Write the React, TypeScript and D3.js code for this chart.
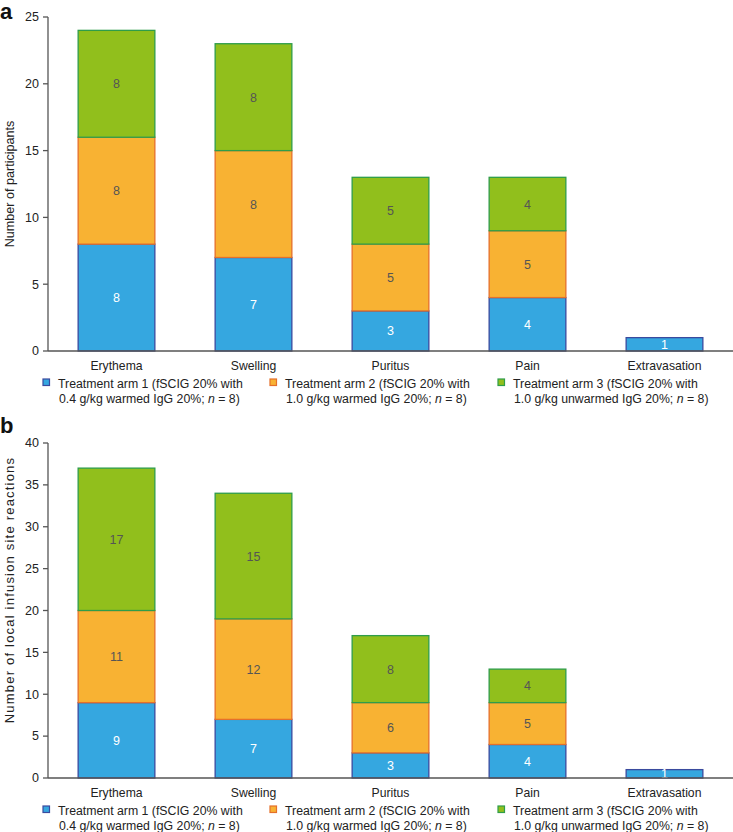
import * as d3 from "d3";

const categories = ["Erythema", "Swelling", "Puritus", "Pain", "Extravasation"];

const arm1A = [8, 7, 3, 4, 1];
const arm2A = [8, 8, 5, 5, 0];
const arm3A = [8, 8, 5, 4, 0];

const arm1B = [9, 7, 3, 4, 1];
const arm2B = [11, 12, 6, 5, 0];
const arm3B = [17, 15, 8, 4, 0];

const ticksA = [0, 5, 10, 15, 20, 25];
const ticksB = [0, 5, 10, 15, 20, 25, 30, 35, 40];

const legendLines = [
  ["Treatment arm 1 (fSCIG 20% with", "0.4 g/kg warmed IgG 20%; "],
  ["Treatment arm 2 (fSCIG 20% with", "1.0 g/kg warmed IgG 20%; "],
  ["Treatment arm 3 (fSCIG 20% with", "1.0 g/kg unwarmed IgG 20%; "],
];

const colors = [
  { fill: "#35a7e0", stroke: "#3a4a9e", text: "#ffffff" },
  { fill: "#f8b233", stroke: "#e5702a", text: "#555555" },
  { fill: "#91bf1c", stroke: "#2f9d4a", text: "#555555" },
];

const FONT = "Liberation Sans, Arial, sans-serif";

type PanelProps = {
  letter: string;
  letterY: number;
  title: string;
  titleSize: number;
  titleSpacing: number;
  titleY: number;
  series: number[][];
  ticks: number[];
  yMax: number;
  top: number;
  bottom: number;
};

function Panel({
  letter,
  letterY,
  title,
  titleSize,
  titleSpacing,
  titleY,
  series,
  ticks,
  yMax,
  top,
  bottom,
}: PanelProps) {
  const x = d3.scaleBand().domain(categories).range([48, 733]).paddingInner(0.44).paddingOuter(0.22);
  const y = d3.scaleLinear().domain([0, yMax]).range([bottom, top]);
  const stacked = d3.stack<number>().keys(["0", "1", "2"]).value((i, k) => series[+k][i])(
    categories.map((_, i) => i)
  );
  const legendX = [43, 270, 498];

  return (
    <g fontFamily={FONT}>
      <text x={0} y={letterY} fontSize={22} fontWeight="bold" fill="#111">
        {letter}
      </text>
      <text
        transform={`translate(14,${titleY}) rotate(-90)`}
        textAnchor="middle"
        fontSize={titleSize}
        letterSpacing={titleSpacing}
        fill="#222"
      >
        {title}
      </text>
      {stacked.map((layer, si) =>
        layer.map((d, i) => {
          const v = d[1] - d[0];
          if (v <= 0) return null;
          const c = colors[si];
          const x0 = x(categories[i])!;
          return (
            <g key={`${si}-${i}`}>
              <rect
                x={x0}
                y={y(d[1])}
                width={x.bandwidth()}
                height={y(d[0]) - y(d[1])}
                fill={c.fill}
                stroke={c.stroke}
                strokeWidth={1.3}
              />
              <text
                x={x0 + x.bandwidth() / 2}
                y={(y(d[0]) + y(d[1])) / 2 + 4.5}
                textAnchor="middle"
                fontSize={12.5}
                fill={c.text}
              >
                {v}
              </text>
            </g>
          );
        })
      )}
      <line x1={48} x2={48} y1={top} y2={bottom} stroke="#555" strokeWidth={1.3} />
      <line x1={48} x2={733} y1={bottom} y2={bottom} stroke="#555" strokeWidth={1.3} />
      {ticks.map((t) => (
        <g key={t}>
          <line x1={43} x2={48} y1={y(t)} y2={y(t)} stroke="#555" strokeWidth={1.3} />
          <text x={39} y={y(t) + 4.3} textAnchor="end" fontSize={12.5} fill="#222">
            {t}
          </text>
        </g>
      ))}
      {categories.map((c) => (
        <text
          key={c}
          x={x(c)! + x.bandwidth() / 2}
          y={bottom + 19}
          textAnchor="middle"
          fontSize={12.2}
          fill="#222"
        >
          {c}
        </text>
      ))}
      {legendLines.map((lines, i) => (
        <g key={i}>
          <rect
            x={legendX[i]}
            y={bottom + 28}
            width={6.5}
            height={6.5}
            fill={colors[i].fill}
            stroke={colors[i].stroke}
            strokeWidth={1.2}
          />
          <text x={legendX[i] + 15} y={bottom + 37} fontSize={12.3} fill="#222">
            {lines[0]}
          </text>
          <text x={legendX[i] + 16} y={bottom + 52} fontSize={12.3} fill="#222">
            {lines[1]}
            <tspan fontStyle="italic">n</tspan> = 8)
          </text>
        </g>
      ))}
    </g>
  );
}

export default function App() {
  return (
    <div style={{ position: "absolute", left: 0, top: 0 }}>
      <svg width={733} height={832} style={{ display: "block", background: "#fff" }}>
        <Panel
          letter="a"
          letterY={19}
          title="Number of participants"
          titleSize={12.6}
          titleSpacing={0}
          titleY={184}
          series={[arm1A, arm2A, arm3A]}
          ticks={ticksA}
          yMax={25}
          top={17}
          bottom={351}
        />
        <Panel
          letter="b"
          letterY={433}
          title="Number of local infusion site reactions"
          titleSize={13}
          titleSpacing={1.2}
          titleY={590}
          series={[arm1B, arm2B, arm3B]}
          ticks={ticksB}
          yMax={40}
          top={443}
          bottom={778}
        />
      </svg>
    </div>
  );
}
